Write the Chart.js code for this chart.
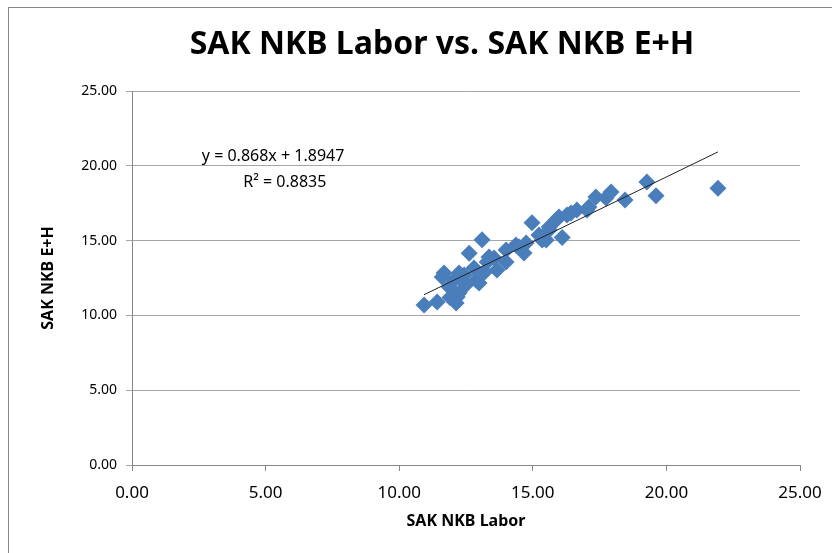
<!DOCTYPE html>
<html>
<head>
<meta charset="utf-8">
<script src="https://cdn.jsdelivr.net/npm/chart.js@4.4.1/dist/chart.umd.min.js"></script>
<style>
  html, body { margin: 0; padding: 0; background: #fff; overflow: hidden; }
  #wrap { width: 832px; height: 553px; position: relative; }
</style>
</head>
<body>
<div id="wrap"><canvas id="chart" width="832" height="553"></canvas></div>
<script>
// values
const laborX = [10.93, 11.42, 12.13, 12.17, 11.68, 11.87, 12.24, 12.06, 12.43, 12.62,
  13.10, 12.99, 12.80, 13.29, 13.66, 13.55, 14.00, 14.00, 14.37, 14.67,
  14.75, 14.97, 15.50, 15.23, 15.61, 16.10, 15.98, 16.28, 16.65, 17.03,
  17.36, 17.74, 17.93, 18.45, 19.27, 19.61, 21.93, 12.24, 11.61, 12.88,
  13.36, 14.49, 15.87, 16.43, 17.10, 15.61, 15.35, 11.90, 12.50, 13.20];
const ehY = [10.70, 10.90, 10.83, 11.23, 12.83, 11.90, 11.50, 12.37, 12.70, 14.15,
  15.05, 12.17, 13.17, 13.57, 13.03, 13.84, 13.57, 14.37, 14.71, 14.17,
  14.84, 16.20, 15.04, 15.37, 15.91, 15.20, 16.58, 16.71, 17.05, 17.05,
  17.91, 17.85, 18.25, 17.71, 18.92, 18.00, 18.50, 12.83, 12.57, 12.37,
  13.90, 14.57, 16.38, 16.84, 17.25, 15.71, 15.04, 11.20, 12.05, 12.90];
const tickValues = [0, 5, 10, 15, 20, 25];

// trendline shown on the chart
const trendSlope = 0.868;
const trendIntercept = 1.8947;
const trendLabel = 'y = 0.868x + 1.8947';
const r2Label = 'R\u00b2 = 0.8835';

const chartTitle = 'SAK NKB Labor vs. SAK NKB E+H';
const xTitle = 'SAK NKB Labor';
const yTitle = 'SAK NKB E+H';

const FONT = '"Noto Sans", "Open Sans", sans-serif';

const points = laborX.map((x, i) => ({ x: x, y: ehY[i] }));
const xMin = Math.min(...laborX);
const xMax = Math.max(...laborX);
const trendPoints = [
  { x: xMin, y: trendSlope * xMin + trendIntercept },
  { x: xMax, y: trendSlope * xMax + trendIntercept }
];

// white background, frame, titles and equation text
const decor = {
  id: 'decor',
  beforeDraw(chart) {
    const ctx = chart.ctx;
    ctx.save();
    ctx.fillStyle = '#fff';
    ctx.fillRect(0, 0, chart.width, chart.height);
    ctx.strokeStyle = '#868686';
    ctx.lineWidth = 1;
    ctx.strokeRect(8.5, 7.5, 900, 700);
    ctx.restore();
  },
  afterDraw(chart) {
    const ctx = chart.ctx;
    const area = chart.chartArea;
    const xs = chart.scales.x, ys = chart.scales.y;
    ctx.save();
    ctx.fillStyle = '#000';
    ctx.textAlign = 'center';
    ctx.textBaseline = 'middle';

    ctx.font = 'bold 32px ' + FONT;
    ctx.fillText(chartTitle, 442, 45);

    ctx.font = 'bold 16px ' + FONT;
    ctx.fillText(xTitle, (area.left + area.right) / 2, 521);

    ctx.save();
    ctx.translate(48, (area.top + area.bottom) / 2);
    ctx.rotate(-Math.PI / 2);
    ctx.fillText(yTitle, 0, 0);
    ctx.restore();

    ctx.font = '16px ' + FONT;
    ctx.fillText(trendLabel, xs.getPixelForValue(5.28), ys.getPixelForValue(20.6));
    ctx.fillText(r2Label, xs.getPixelForValue(5.72), ys.getPixelForValue(18.92));
    ctx.restore();
  }
};

new Chart(document.getElementById('chart'), {
  type: 'scatter',
  data: {
    datasets: [
      {
        label: 'Trend',
        type: 'line',
        data: trendPoints,
        borderColor: '#222',
        borderWidth: 1,
        pointRadius: 0,
        fill: false,
        order: 0
      },
      {
        label: 'SAK NKB E+H',
        data: points,
        pointStyle: 'rectRot',
        pointRadius: 8.5,
        pointHoverRadius: 8.5,
        backgroundColor: '#4a7ebb',
        borderColor: '#4a7ebb',
        borderWidth: 0,
        order: 1
      }
    ]
  },
  options: {
    responsive: false,
    animation: false,
    layout: { padding: { top: 91, right: 32, bottom: 0, left: 0 } },
    plugins: {
      legend: { display: false },
      title: { display: false },
      tooltip: { enabled: false }
    },
    scales: {
      x: {
        type: 'linear',
        min: 0,
        max: 25,
        afterFit(scale) {
          scale.height = 88;
          scale.paddingLeft = 0;
          scale.paddingRight = 0;
        },
        afterBuildTicks(scale) { scale.ticks = tickValues.map(v => ({ value: v })); },
        grid: { drawOnChartArea: false, drawTicks: true, tickLength: 6, color: '#868686' },
        border: { color: '#868686' },
        ticks: {
          padding: 12,
          color: '#000',
          font: { family: FONT, size: 17 },
          callback: v => Number(v).toFixed(2)
        }
      },
      y: {
        type: 'linear',
        min: 0,
        max: 25,
        afterFit(scale) {
          scale.width = 132;
          scale.paddingTop = 0;
          scale.paddingBottom = 0;
        },
        afterBuildTicks(scale) { scale.ticks = tickValues.map(v => ({ value: v })); },
        grid: { drawOnChartArea: true, drawTicks: true, tickLength: 6, color: '#a6a6a6' },
        border: { color: '#868686' },
        ticks: {
          padding: 9,
          color: '#000',
          font: { family: FONT, size: 14 },
          callback: v => Number(v).toFixed(2)
        }
      }
    }
  },
  plugins: [decor]
});
</script>
</body>
</html>
